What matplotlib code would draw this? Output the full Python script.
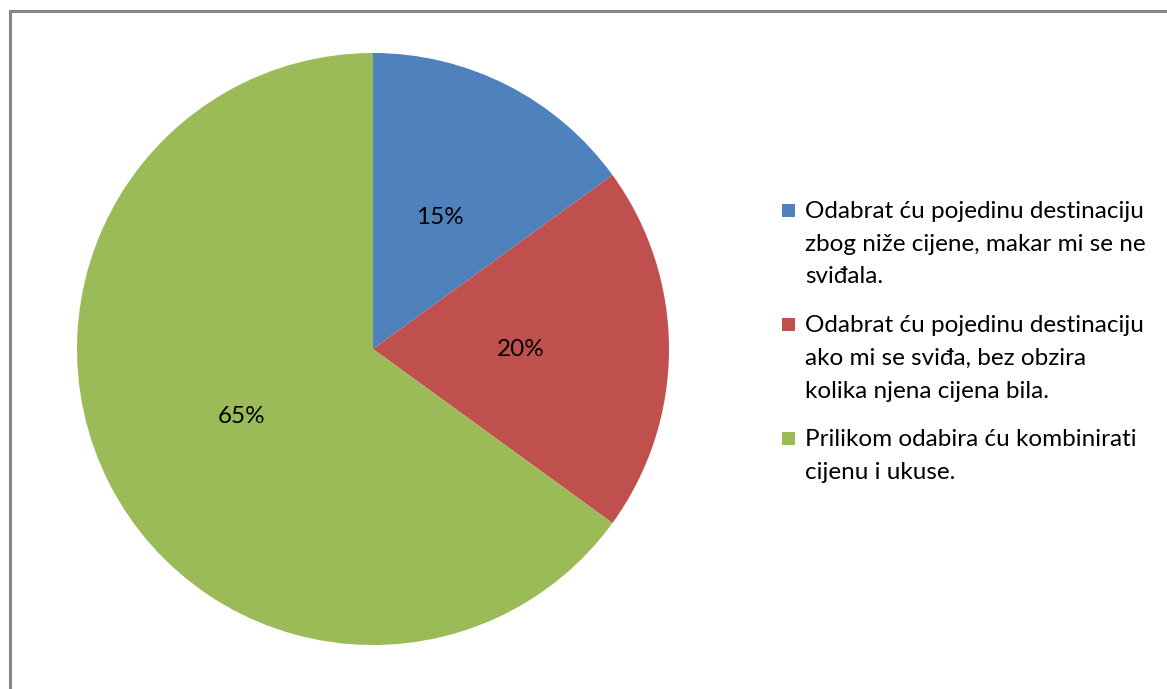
import matplotlib
matplotlib.use("Agg")
import matplotlib.pyplot as plt
from matplotlib.patches import Rectangle

labels = [
    "Odabrat ću pojedinu destinaciju\nzbog niže cijene, makar mi se ne\nsviđala.",
    "Odabrat ću pojedinu destinaciju\nako mi se sviđa, bez obzira\nkolika njena cijena bila.",
    "Prilikom odabira ću kombinirati\ncijenu i ukuse.",
]
values = [15, 20, 65]
colors = ["#4F81BD", "#C0504D", "#9BBB59"]

W, H = 1167, 689
fig = plt.figure(figsize=(W / 100, H / 100), dpi=100)
plt.rcParams['font.family'] = ['Lato', 'DejaVu Sans']
FS = 17.5

# outer border
fig.patches.append(Rectangle((9.5 / W, -0.01), 1.05, (H - 10.5) / H + 0.01,
                             transform=fig.transFigure, fill=False,
                             edgecolor="#868686", linewidth=2.2))

cx, cy, r = 373, H - 349, 296
ax = fig.add_axes([(cx - r) / W, (cy - r) / H, 2 * r / W, 2 * r / H])
wedges, texts, autotexts = ax.pie(values, colors=colors, startangle=90, counterclock=False,
                                  radius=1, autopct="%d%%", pctdistance=0.5,
                                  textprops=dict(fontsize=FS, color="black"))
ax.set_xlim(-1, 1)
ax.set_ylim(-1, 1)
ax.set_aspect("equal")
ax.axis("off")

# legend (manual layout so markers align with first line)
line_h = 32.5
gap = 16.5
y = 210  # center of first line, pixels from top
for lab, col in zip(labels, colors):
    nlines = lab.count("\n") + 1
    fig.patches.append(Rectangle((782 / W, (H - y - 6.5) / H), 13 / W, 13 / H,
                                 transform=fig.transFigure, facecolor=col, edgecolor="none"))
    for i, line in enumerate(lab.split("\n")):
        fig.text(805 / W, (H - (y + i * line_h)) / H, line, fontsize=FS,
                 ha="left", va="center_baseline", color="black")
    y += nlines * line_h + gap

fig.savefig("out.png", dpi=100)
